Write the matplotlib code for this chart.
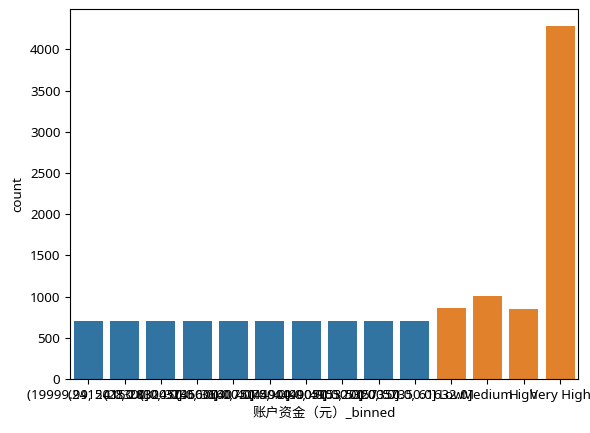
import matplotlib as mpl
mpl.use('Agg')
import matplotlib.pyplot as plt

plt.rcParams['font.family'] = ['Noto Sans', 'Noto Sans CJK SC']
plt.rcParams['font.size'] = 9.6

# binned account funds: 10 quantile bins, then the named levels
bins = ['(19999.99, 24150.0]', '(24150.0, 28300.0]', '(28300.0, 32450.0]',
        '(32450.0, 36600.0]', '(36600.0, 40750.0]', '(40750.0, 44900.0]',
        '(44900.0, 49050.0]', '(49050.0, 53200.0]', '(53200.0, 57350.0]',
        '(57350.0, 61632.0]']
bin_counts = [700, 700, 700, 700, 700, 700, 700, 700, 700, 700]
levels = ['Low', 'Medium', 'High', 'Very High']
level_counts = [860, 1005, 850, 4280]

fig, ax = plt.subplots(figsize=(5.9, 4.33), dpi=100)
ax.bar(bins, bin_counts, width=0.8, color='#3274a1')
ax.bar(levels, level_counts, width=0.8, color='#e1812c')
ax.set_xlim(-0.5, len(bins) + len(levels) - 0.5)
ax.set_ylim(0, 4490)
ax.set_xlabel('账户资金（元）_binned')
ax.set_ylabel('count')
fig.subplots_adjust(left=0.119, right=0.98, top=0.979, bottom=0.125)
fig.savefig('out.png')
